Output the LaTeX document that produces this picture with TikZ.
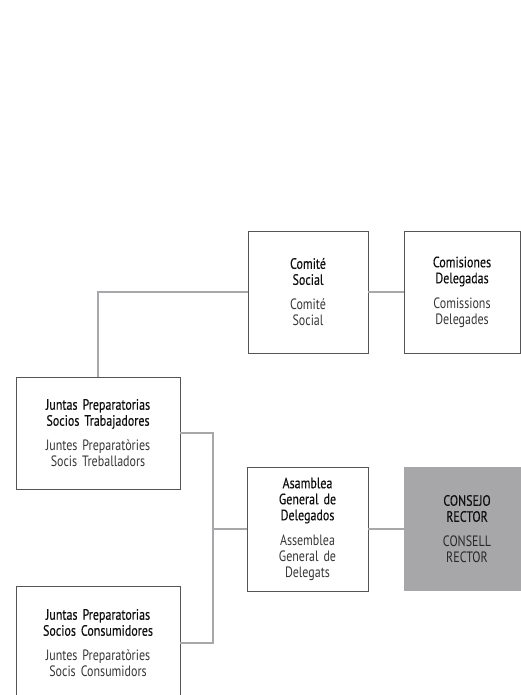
\documentclass[tikz,border=0pt]{standalone}
\usepackage{fontspec}
\setmainfont[FakeStretch=0.8, WordSpace=0.8]{PT Sans}
\usetikzlibrary{positioning}
\definecolor{boxline}{RGB}{85,85,88}
\definecolor{linkgray}{RGB}{168,168,172}
\definecolor{rectorfill}{RGB}{167,167,169}
\definecolor{textes}{RGB}{15,15,15}
\definecolor{textca}{RGB}{55,55,57}
\newcommand{\bitext}[2]{{\addfontfeature{FakeBold=0.25}\color{textes}#1\par}\vspace{9pt}{\color{textca}#2\par}}

\begin{document}
\begin{tikzpicture}[x=1pt, y=-1pt,
  font=\fontsize{15}{16}\selectfont,
  organ/.style={draw=boxline, line width=0.9pt, fill=white, align=center, inner sep=0pt, text width=110pt},
  wide/.style={text width=160pt},
  rector/.style={fill=rectorfill, align=center, inner sep=0pt, text width=110pt},
  link/.style={draw=linkgray, line width=2pt}]
\useasboundingbox (0,0) rectangle (521,695);
% organs
\node[organ, minimum width=120pt, minimum height=122pt] (social) at (308,292) {\bitext{Comité\\Social}{Comité\\Social}};
\node[organ, minimum width=116pt, minimum height=122pt] (comis) at (462,292) {\bitext{Comisiones\\Delegadas}{Comissions\\Delegades}};
\node[organ, wide, minimum width=164pt, minimum height=112pt] (jtrab) at (98,433) {\bitext{Juntas Preparatorias\\Socios Trabajadores}{Juntes Preparatòries\\Socis Treballadors}};
\node[organ, minimum width=121pt, minimum height=124pt] (asamb) at (307.5,529) {\bitext{Asamblea\\General de\\Delegados}{Assemblea\\General de\\Delegats}};
\node[rector, minimum width=126pt, minimum height=124pt] (consejo) at (467,529) {\bitext{CONSEJO\\RECTOR}{\color{textes!90}CONSELL\\RECTOR}};
\node[organ, wide, minimum width=164pt, minimum height=114pt] (jcons) at (98,643) {\bitext{Juntas Preparatorias\\Socios Consumidores}{Juntes Preparatòries\\Socis Consumidors}};
\coordinate (bus) at (213,529);
% links
\draw[link] (jtrab.north) |- (social.west);
\draw[link] (social.east) -- (comis.west);
\draw[link] (jtrab.east) -| (bus) |- (jcons.east);
\draw[link] (bus) -- (asamb.west);
\draw[link] (asamb.east) -- (consejo.west);
\end{tikzpicture}
\end{document}
